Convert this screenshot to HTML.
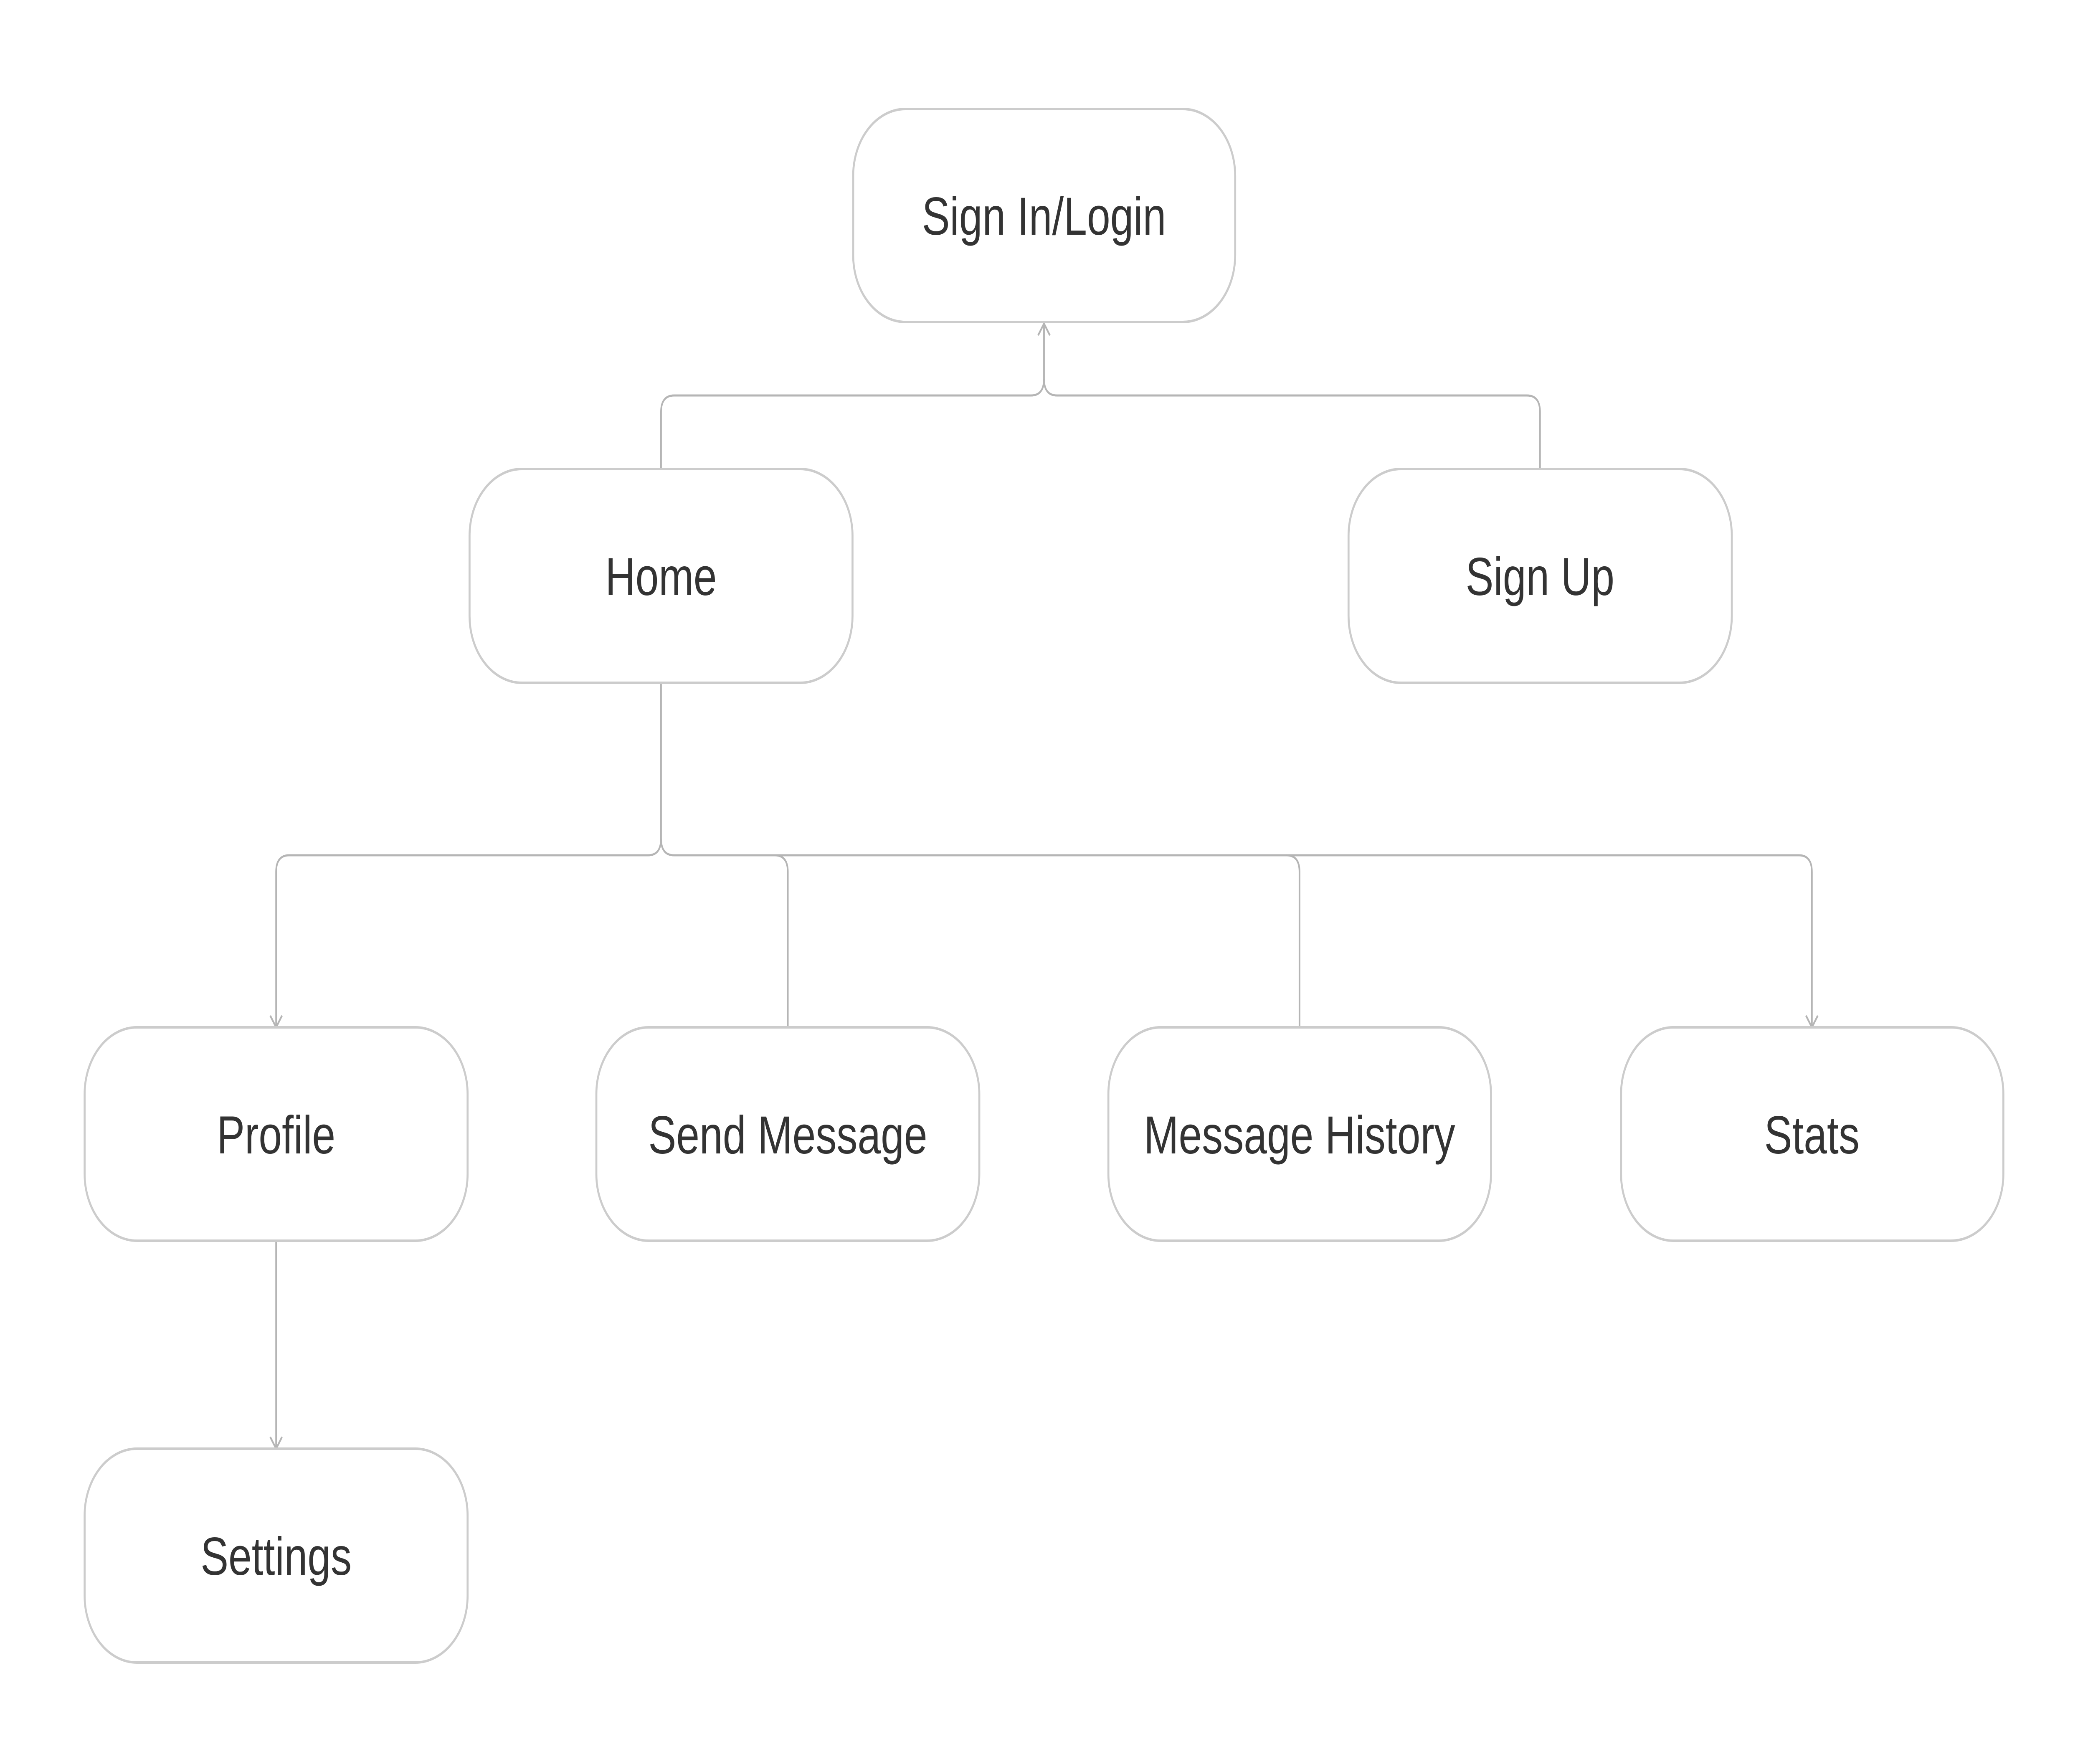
<!DOCTYPE html>
<html><head><meta charset="utf-8"><style>
html,body{margin:0;padding:0;background:#fff;width:100%;height:100%;overflow:hidden;}
svg{display:block;width:100vw;height:100vh;}
text{font-family:"Liberation Sans",sans-serif;font-size:128px;fill:#333;text-anchor:middle;}
</style></head><body>
<svg viewBox="0 0 6390 4224" preserveAspectRatio="none" xmlns="http://www.w3.org/2000/svg">
<g fill="none" stroke="#b5b5b5" stroke-width="5">
<path d="M2023 1123 V987 Q2023 947 2063 947 H3155 Q3195 947 3195 907 V775"/>
<path d="M4713 1123 V987 Q4713 947 4673 947 H3235 Q3195 947 3195 907"/>
<path d="M3177 803 L3195 775 L3213 803"/>
<path d="M2023 1635 V2008 Q2023 2048 1983 2048 H885 Q845 2048 845 2088 V2458"/>
<path d="M827 2432 L845 2460 L863 2432"/>
<path d="M2023 2008 Q2023 2048 2063 2048 H5505 Q5545 2048 5545 2088 V2458"/>
<path d="M5527 2432 L5545 2460 L5563 2432"/>
<path d="M2371 2048 Q2411 2048 2411 2088 V2458"/>
<path d="M3937 2048 Q3977 2048 3977 2088 V2458"/>
<path d="M845 2973 V3467"/>
<path d="M827 3441 L845 3469 L863 3441"/>
</g>
<g fill="#fff" stroke="#cccccc" stroke-width="6">
<rect x="2611" y="261" width="1169" height="510" rx="160" ry="160"/>
<rect x="1437" y="1123" width="1172" height="512" rx="160" ry="160"/>
<rect x="4127" y="1123" width="1173" height="512" rx="160" ry="160"/>
<rect x="259" y="2460" width="1172" height="511" rx="160" ry="160"/>
<rect x="1825" y="2460" width="1172" height="511" rx="160" ry="160"/>
<rect x="3392" y="2460" width="1171" height="511" rx="160" ry="160"/>
<rect x="4961" y="2460" width="1170" height="511" rx="160" ry="160"/>
<rect x="259" y="3469" width="1172" height="512" rx="160" ry="160"/>
</g>
<text x="3195" y="562">Sign In/Login</text>
<text x="2023" y="1425">Home</text>
<text x="4713" y="1425">Sign Up</text>
<text x="845" y="2762">Profile</text>
<text x="2411" y="2762">Send Message</text>
<text x="3977" y="2762">Message History</text>
<text x="5545" y="2762">Stats</text>
<text x="845" y="3771">Settings</text>
</svg>
</body></html>
